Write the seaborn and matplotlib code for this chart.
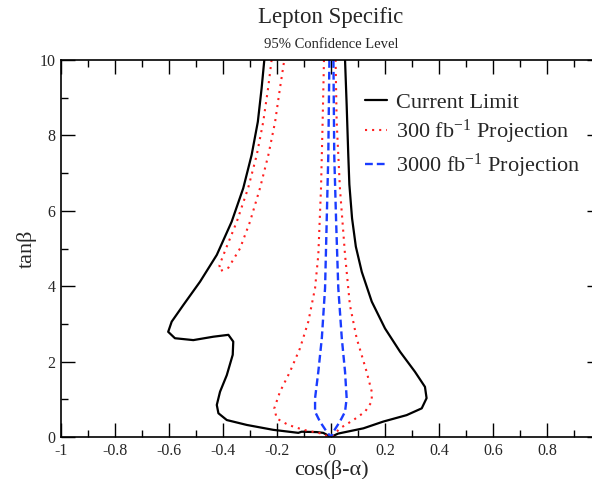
import numpy as np
import pandas as pd
import matplotlib
matplotlib.use("Agg")
import matplotlib.pyplot as plt
import seaborn as sns
from matplotlib.ticker import MultipleLocator, FixedLocator
from matplotlib.lines import Line2D

# ---- data ----
# Current limit (black solid): one path from top-left, through the origin, to top-right
cur_x = [-0.247, -0.257, -0.271, -0.294, -0.325, -0.368, -0.423, -0.485, -0.547, -0.590,
         -0.603, -0.578, -0.510, -0.436, -0.380, -0.362, -0.364, -0.386, -0.411, -0.423,
         -0.417, -0.386, -0.312, -0.214, -0.121, -0.109, -0.053, -0.029, 0.000,
         0.026, 0.046, 0.120, 0.194, 0.280, 0.336, 0.354, 0.348, 0.311, 0.256,
         0.200, 0.151, 0.114, 0.092, 0.078, 0.068, 0.064, 0.058, 0.052]
cur_y = [10.0, 9.25, 8.36, 7.48, 6.60, 5.71, 4.83, 4.12, 3.50, 3.06,
         2.79, 2.62, 2.57, 2.66, 2.71, 2.53, 2.18, 1.64, 1.20, 0.85,
         0.63, 0.45, 0.32, 0.19, 0.11, 0.14, 0.13, 0.11, 0.00,
         0.09, 0.12, 0.23, 0.41, 0.58, 0.76, 1.03, 1.33, 1.73, 2.26,
         2.88, 3.59, 4.38, 5.05, 5.80, 6.70, 7.48, 8.81, 10.0]

# 300 fb^-1 projection (red dotted): narrow finger on the left
p300a_x = [-0.220, -0.233, -0.251, -0.275, -0.307, -0.349, -0.389, -0.413, -0.411,
           -0.380, -0.337, -0.300, -0.263, -0.232, -0.207, -0.189, -0.173]
p300a_y = [10.0, 9.25, 8.36, 7.48, 6.60, 5.71, 5.00, 4.56, 4.40,
           4.49, 5.00, 5.71, 6.60, 7.48, 8.36, 9.25, 10.0]
# 300 fb^-1 projection: central region
p300b_x = [-0.026, -0.031, -0.037, -0.047, -0.059, -0.084, -0.115, -0.152, -0.189,
           -0.210, -0.201, -0.158, -0.102, -0.041, -0.004,
           0.009, 0.033, 0.083, 0.126, 0.151, 0.151, 0.132, 0.095, 0.070,
           0.052, 0.033, 0.021, 0.017]
p300b_y = [10.0, 8.36, 6.60, 4.83, 3.95, 3.06, 2.35, 1.73, 1.20,
           0.76, 0.49, 0.32, 0.19, 0.10, 0.00,
           0.05, 0.23, 0.45, 0.67, 0.94, 1.20, 1.73, 2.62, 3.50,
           4.83, 6.60, 8.36, 10.0]

# 3000 fb^-1 projection (blue dashed)
p3000_x = [-0.006, -0.010, -0.016, -0.022, -0.034, -0.047, -0.059, -0.059, -0.041,
           -0.016, 0.000, 0.009, 0.033, 0.052, 0.058, 0.052, 0.040, 0.027,
           0.019, 0.012, 0.009]
p3000_y = [10.0, 7.48, 5.71, 3.95, 2.62, 1.73, 1.03, 0.67, 0.41,
           0.14, 0.00, 0.14, 0.41, 0.67, 1.03, 1.73, 2.62, 3.95,
           5.71, 7.48, 10.0]

labels = ["Current Limit", "300 fb$^{-1}$ Projection", "3000 fb$^{-1}$ Projection"]
x_ticks = [-1, -0.8, -0.6, -0.4, -0.2, 0, 0.2, 0.4, 0.6, 0.8]
x_ticklabels = ["-1", "-0.8", "-0.6", "-0.4", "-0.2", "0", "0.2", "0.4", "0.6", "0.8"]
y_ticks = [0, 2, 4, 6, 8, 10]

# ---- style ----
sns.set_theme(style="ticks")
plt.rcParams["font.family"] = ["Liberation Serif", "DejaVu Serif"]
plt.rcParams["mathtext.fontset"] = "custom"
plt.rcParams["mathtext.rm"] = "Liberation Serif"
plt.rcParams["mathtext.it"] = "Liberation Serif:italic"
plt.rcParams["lines.solid_joinstyle"] = "round"
plt.rcParams["lines.dash_joinstyle"] = "round"

fig = plt.figure(figsize=(5.92, 4.79), dpi=100)
ax = fig.add_axes([61 / 592, 42 / 479, 540 / 592, 377 / 479])

BLACK = dict(color="black", lw=1.6)
RED = dict(color="#ff2020", lw=1.5, linestyle=(0, (1, 2.4)))
BLUE = dict(color="#1a3cff", lw=1.7, linestyle=(0, (3.3, 1.7)))

def draw(xs, ys, style):
    df = pd.DataFrame({"x": xs, "y": ys})
    sns.lineplot(data=df, x="x", y="y", sort=False, estimator=None, ax=ax, **style)

draw(cur_x, cur_y, BLACK)
draw(p300a_x, p300a_y, RED)
draw(p300b_x, p300b_y, RED)
draw(p3000_x, p3000_y, BLUE)

ax.set_xlim(-1, 1)
ax.set_ylim(0, 10)
ax.xaxis.set_major_locator(FixedLocator(x_ticks))
ax.set_xticklabels(x_ticklabels)
ax.xaxis.set_minor_locator(MultipleLocator(0.1))
ax.yaxis.set_major_locator(FixedLocator(y_ticks))
ax.yaxis.set_minor_locator(MultipleLocator(1))
ax.tick_params(which="both", direction="in", top=True, right=True, color="black",
               labelsize=11.5, width=1)
ax.tick_params(which="major", length=10, pad=4)
ax.tick_params(which="minor", length=5)
for s in ax.spines.values():
    s.set_linewidth(1.2)
    s.set_color("black")

ax.set_xlabel("cos(β-α)", fontsize=16, labelpad=1)
ax.set_ylabel("tanβ", fontsize=16, labelpad=2)

fig.text(331 / 592, 1 - 18 / 479, "Lepton Specific", ha="center", va="center", fontsize=16.5)
fig.text(331 / 592, 1 - 44 / 479, "95% Confidence Level", ha="center", va="center", fontsize=10.5)

handles = [Line2D([], [], **BLACK), Line2D([], [], **RED), Line2D([], [], **BLUE)]
ax.legend(handles, labels, loc="upper left", bbox_to_anchor=(365 / 592, 1 - 92 / 479),
          bbox_transform=fig.transFigure, frameon=False, fontsize=16,
          handlelength=1.0, handletextpad=0.4, borderpad=0, borderaxespad=0,
          labelspacing=0.25)

fig.savefig("out.png", dpi=100)
